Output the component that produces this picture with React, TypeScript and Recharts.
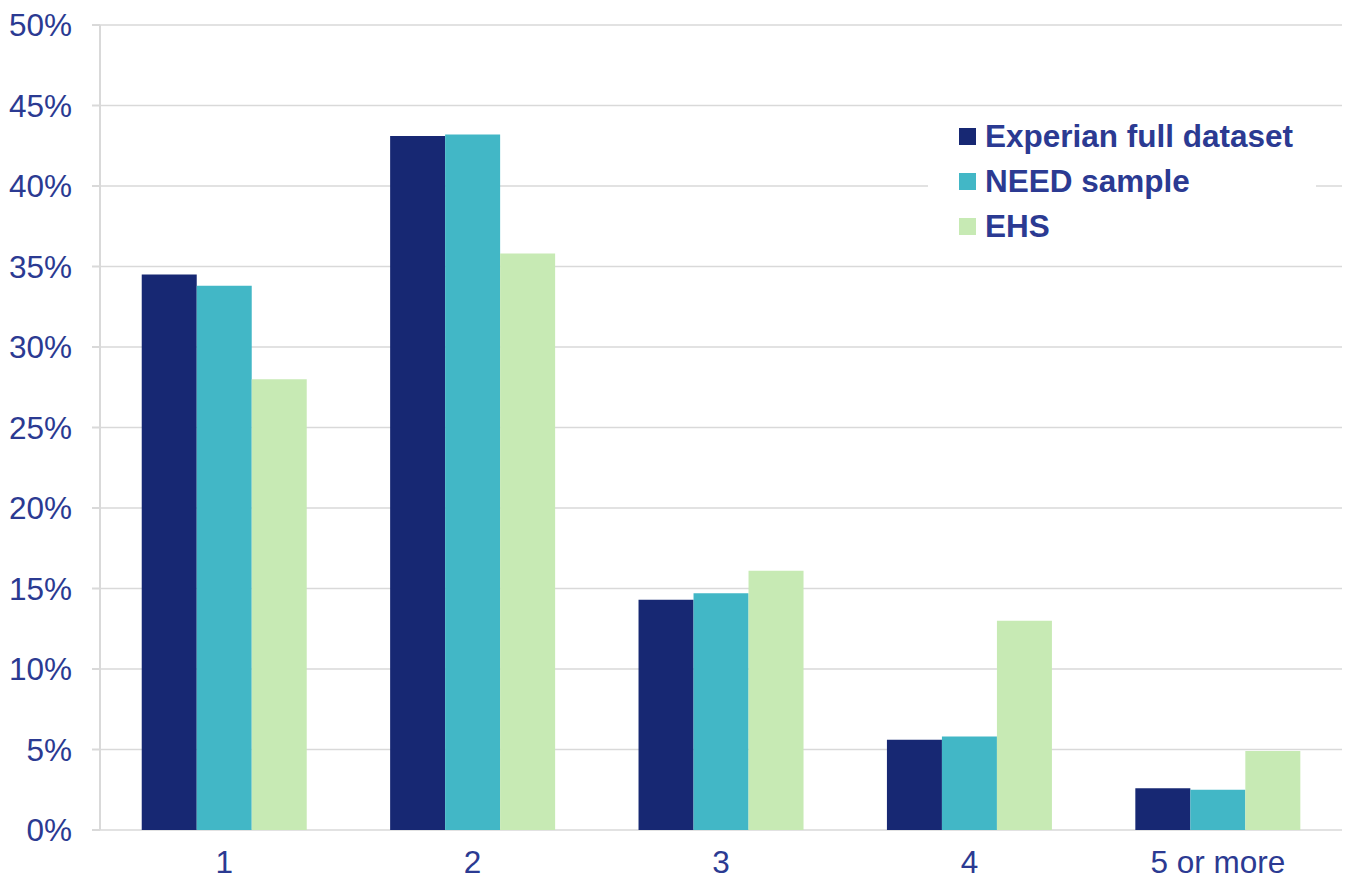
import React from 'react';
import {
  Bar,
  BarChart,
  CartesianGrid,
  XAxis,
  YAxis,
} from 'recharts';

const categories = ['1', '2', '3', '4', '5 or more'];
const experian = [34.5, 43.1, 14.3, 5.6, 2.6];
const needSample = [33.8, 43.2, 14.7, 5.8, 2.5];
const ehs = [28.0, 35.8, 16.1, 13.0, 4.9];
const yTicks = [0, 5, 10, 15, 20, 25, 30, 35, 40, 45, 50];
const edgeTicks = [0, 1, 2, 3, 4, 5];

const series = [
  { key: 'experian', name: 'Experian full dataset', color: '#172873' },
  { key: 'need', name: 'NEED sample', color: '#42B7C6' },
  { key: 'ehs', name: 'EHS', color: '#C7EAB4' },
];

const data = categories.map((category, i) => ({
  category,
  experian: experian[i],
  need: needSample[i],
  ehs: ehs[i],
}));

const TEXT = '#2B3A92';
const GRID = '#D9D9D9';
const FONT = '"Liberation Sans", Arial, sans-serif';

// legend sits on a white box over the top-right of the plot
function LegendBox() {
  return (
    <div
      style={{
        position: 'absolute',
        left: 928,
        top: 113,
        width: 388,
        height: 137,
        background: '#fff',
      }}
    >
      {series.map((s, i) => (
        <div
          key={s.key}
          style={{
            position: 'absolute',
            left: 31,
            top: 23 + i * 45 - 20,
            height: 40,
            display: 'flex',
            alignItems: 'center',
          }}
        >
          <span style={{ width: 17, height: 17, background: s.color, marginRight: 9 }} />
          <span
            style={{
              fontFamily: FONT,
              fontWeight: 700,
              fontSize: 31.5,
              color: TEXT,
              whiteSpace: 'nowrap',
            }}
          >
            {s.name}
          </span>
        </div>
      ))}
    </div>
  );
}

export default function App() {
  return (
    <div style={{ position: 'absolute', left: 0, top: 0, width: 1346, height: 881, background: '#fff' }}>
      <BarChart
        width={1346}
        height={881}
        data={data}
        margin={{ top: 25, right: 4, bottom: 0, left: 0 }}
        barCategoryGap="16.8%"
        barGap={0}
      >
        <CartesianGrid xAxisId="cat" vertical={false} stroke={GRID} strokeWidth={1.5} />
        {/* tick marks between categories */}
        <XAxis
          xAxisId="edges"
          type="number"
          domain={[0, 5]}
          ticks={edgeTicks}
          height={0}
          axisLine={{ stroke: GRID, strokeWidth: 2 }}
          tickLine={{ stroke: GRID, strokeWidth: 2 }}
          tickSize={10}
          tick={() => <text />}
          allowDataOverflow
        />
        <XAxis
          xAxisId="cat"
          dataKey="category"
          height={51}
          axisLine={false}
          tickLine={false}
          tickSize={0}
          tickMargin={21}
          tick={{ fill: TEXT, fontSize: 31.5, fontFamily: FONT }}
        />
        <YAxis
          width={100}
          domain={[0, 50]}
          ticks={yTicks}
          interval={0}
          tickFormatter={(v) => `${v}%`}
          axisLine={{ stroke: GRID, strokeWidth: 2 }}
          tickLine={{ stroke: GRID, strokeWidth: 2 }}
          tickSize={8}
          tickMargin={20}
          tick={{ fill: TEXT, fontSize: 31.5, fontFamily: FONT }}
        />
        {series.map((s) => (
          <Bar
            key={s.key}
            xAxisId="cat"
            dataKey={s.key}
            name={s.name}
            fill={s.color}
            isAnimationActive={false}
          />
        ))}
      </BarChart>
      <LegendBox />
    </div>
  );
}
